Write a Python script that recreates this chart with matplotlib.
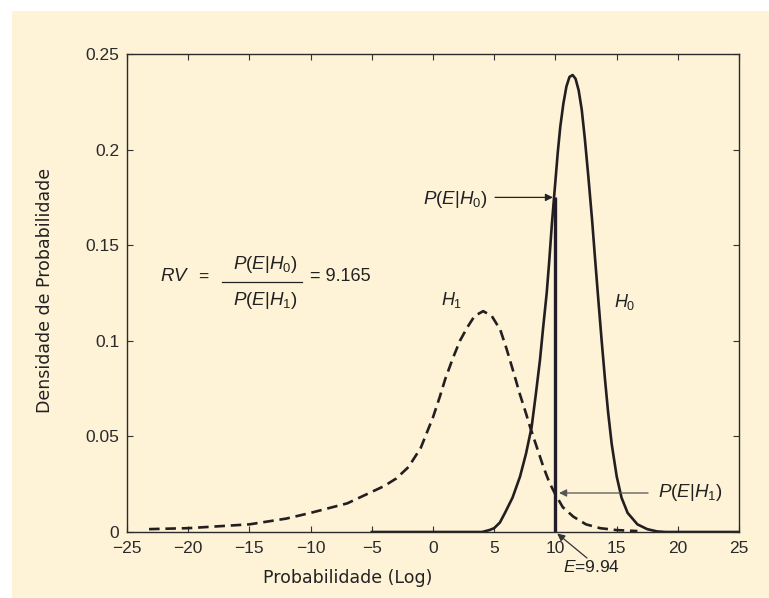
import matplotlib
matplotlib.use("Agg")
import matplotlib.pyplot as plt
from matplotlib.patches import Rectangle

# ---------------- data ----------------
h0_x = [-5, 4.0, 4.6, 5.0, 5.47, 5.88, 6.5, 7.11, 7.6, 8.06, 8.4, 8.74, 9.0, 9.29,
        9.5, 9.70, 9.89, 10.2, 10.4, 10.65, 10.9, 11.15, 11.41, 11.65, 11.9, 12.15,
        12.4, 12.69, 13.0, 13.24, 13.5, 13.78, 14.05, 14.3, 14.6, 15.01, 15.4, 15.9,
        16.7, 17.5, 18.3, 19.0, 25]
h0_y = [0, 0, 0.001, 0.002, 0.005, 0.010, 0.018, 0.029, 0.041, 0.055, 0.072, 0.090,
        0.107, 0.125, 0.142, 0.160, 0.175, 0.199, 0.212, 0.224, 0.233, 0.238, 0.239,
        0.237, 0.231, 0.221, 0.206, 0.186, 0.163, 0.143, 0.122, 0.100, 0.080, 0.063,
        0.046, 0.029, 0.018, 0.010, 0.004, 0.0015, 0.0003, 0, 0]

h1_x = [-23.2, -20, -17.5, -15, -12, -10, -7, -5, -4, -3, -2, -1, 0, 0.57, 1.0,
        1.63, 2.2, 2.8, 3.4, 4.1, 4.8, 5.5, 6.0, 6.56, 7.1, 7.6, 7.93, 8.5, 9.02,
        9.5, 9.97, 10.6, 11.47, 12.5, 13.65, 15.0, 16.7]
h1_y = [0.0015, 0.002, 0.003, 0.004, 0.007, 0.010, 0.015, 0.021, 0.024, 0.028,
        0.034, 0.044, 0.060, 0.071, 0.080, 0.091, 0.100, 0.107, 0.113, 0.1155,
        0.113, 0.1057, 0.096, 0.084, 0.072, 0.062, 0.055, 0.044, 0.034, 0.026,
        0.020, 0.013, 0.008, 0.004, 0.002, 0.001, 0.0005]

evidence = 9.94
p_e_h0 = 0.175
p_e_h1 = 0.0204
rv_value = "9.165"

x_ticks = [-25, -20, -15, -10, -5, 0, 5, 10, 15, 20, 25]
y_ticks = [0, 0.05, 0.1, 0.15, 0.2, 0.25]
y_tick_labels = ["0", "0.05", "0.1", "0.15", "0.2", "0.25"]

x_label = "Probabilidade (Log)"
y_label = "Densidade de Probabilidade"

# ---------------- style ----------------
cream = "#FEF2D7"
ink = "#231F20"
plt.rcParams["font.family"] = ["Liberation Sans", "DejaVu Sans"]
plt.rcParams["mathtext.fontset"] = "custom"
plt.rcParams["mathtext.it"] = "Liberation Sans:italic"
plt.rcParams["mathtext.rm"] = "Liberation Sans"
plt.rcParams["mathtext.bf"] = "Liberation Sans:bold"
plt.rcParams["axes.unicode_minus"] = True

W, H = 769, 598
fig = plt.figure(figsize=(W / 100, H / 100), dpi=100)
fig.patch.set_facecolor("white")
fig.add_artist(Rectangle((12 / W, 0), 1, (H - 11) / H, transform=fig.transFigure,
                         facecolor=cream, edgecolor="none", zorder=-10))

ax = fig.add_axes([127 / W, (H - 532) / H, 612 / W, 478 / H])
ax.set_facecolor(cream)

ax.plot(h1_x, h1_y, color=ink, lw=1.9, dashes=(4, 2.2), solid_capstyle="butt")
ax.plot(h0_x, h0_y, color=ink, lw=1.9, solid_joinstyle="round")
ax.plot([evidence, evidence], [0, p_e_h0], color="#221C2A", lw=2.4, solid_capstyle="butt")

ax.set_xlim(-25, 25)
ax.set_ylim(0, 0.25)
ax.set_xticks(x_ticks)
ax.set_yticks(y_ticks)
ax.set_yticklabels(y_tick_labels)
ax.tick_params(direction="in", length=4.5, width=0.8, color="#333333",
               top=True, right=True, labelsize=12.5, labelcolor="#2a2a2a")
ax.tick_params(axis="x", pad=6.5)
ax.tick_params(axis="y", pad=5.5)
for sp in ax.spines.values():
    sp.set_color("#2b2b2b")
    sp.set_linewidth(1.0)

ax.text(0.361, -0.096, x_label, transform=ax.transAxes, ha="center", va="center",
        fontsize=12.5, family="DejaVu Sans", color="#222222")
fig.text(45 / W, 1 - 290 / H, y_label, rotation=90, ha="center", va="center",
         fontsize=12.5, family="DejaVu Sans", color="#222222")

# ---------------- annotations ----------------
tc = "#222222"
ax.text(-21.08, 0.1334, r"$RV$", ha="center", va="center", fontsize=13.5, color=tc)
ax.text(-18.79, 0.1334, "=", ha="center", va="center", fontsize=12.5, color=tc)
ax.text(-13.73, 0.1400, r"$P(E|H_0)$", ha="center", va="center", fontsize=13.5, color=tc)
ax.plot([-17.2, -10.7], [0.1308, 0.1308], color=tc, lw=0.9)
ax.text(-13.73, 0.1212, r"$P(E|H_1)$", ha="center", va="center", fontsize=13.5, color=tc)
ax.text(-10.05, 0.1334, "= " + rv_value, ha="left", va="center", fontsize=13, color=tc)

ax.text(1.55, 0.1215, r"$H_1$", ha="center", va="center", fontsize=13, color=tc)
ax.text(15.69, 0.1205, r"$H_0$", ha="center", va="center", fontsize=13, color=tc)

arrow_kw = dict(arrowstyle="-|>", lw=0.9, mutation_scale=11, shrinkA=0, shrinkB=0)
ax.text(4.49, 0.1738, r"$P(E|H_0)$", ha="right", va="center", fontsize=13.5, color=tc)
ax.annotate("", xy=(9.80, p_e_h0), xytext=(5.07, p_e_h0),
            arrowprops=dict(color="#222222", **arrow_kw))

ax.text(18.38, p_e_h1, r"$P(E|H_1)$", ha="left", va="center", fontsize=13.5, color=tc)
ax.annotate("", xy=(10.3, p_e_h1), xytext=(17.57, p_e_h1),
            arrowprops=dict(color="#555555", **arrow_kw))

ax.text(10.62, -0.0183, r"$E$=" + str(evidence), ha="left", va="center", fontsize=12.5,
        color=tc, clip_on=False)
ax.annotate("", xy=(10.15, -0.0008), xytext=(12.58, -0.0136),
            arrowprops=dict(color="#333333", **arrow_kw), annotation_clip=False)

fig.savefig("out.png", dpi=100, facecolor=fig.get_facecolor())
